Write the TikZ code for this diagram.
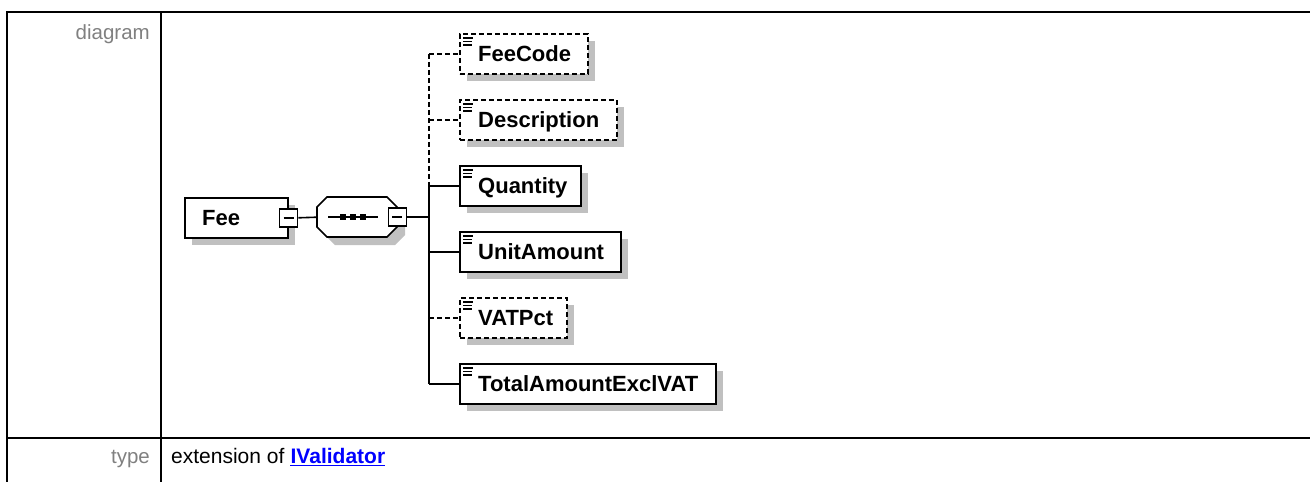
\documentclass[tikz,border=0pt]{standalone}
\usepackage{fontspec}
\setmainfont{Liberation Sans}
\definecolor{labelgray}{RGB}{128,128,128}
\definecolor{linkblue}{RGB}{0,0,255}
\definecolor{shadowgray}{RGB}{192,192,192}
\newcommand\xelem[6]{%
  \fill[shadowfill] (#2+8,#3+8) rectangle (#2+8+#4,#3+48);
  \node[elembox,#6,minimum width=#4pt] (#1) at (#2,#3) {};
  \node[elemtext] (#1t) at (#2+19,#3+28) {#5};
  \draw[iconline] (#2+4,#3+5) -- +(10,0) (#2+4,#3+8.5) -- +(9,0) (#2+4,#3+12) -- +(9,0);
}
\begin{document}
\begin{tikzpicture}[x=1pt,y=-1pt,
  tblline/.style={line width=2pt, black},
  shadowfill/.style={fill=shadowgray},
  elembox/.style={draw, line width=1.6pt, fill=white, minimum height=40pt, inner sep=0pt, anchor=north west},
  optional/.style={dash pattern=on 5pt off 3pt},
  elemtext/.style={font=\bfseries\fontsize{22}{25}\selectfont, anchor=base west, inner sep=0pt},
  iconline/.style={line width=1.3pt},
  sqbox/.style={draw, line width=1.6pt, fill=white, minimum size=18pt, inner sep=0pt},
  conn/.style={line width=1.6pt},
  tbllabel/.style={font=\fontsize{20.5}{24}\selectfont, text=labelgray, inner sep=0pt, anchor=base east},
  tbltext/.style={font=\fontsize{21}{24}\selectfont, inner sep=0pt, anchor=base west}
]
\useasboundingbox (0,0) rectangle (1310,482);
% table
\draw[tblline] (7,482) -- (7,12) -- (1311,12);
\draw[tblline] (161,12) -- (161,482);
\draw[tblline] (7,438) -- (1311,438);
\node[tbllabel] (lbldiagram) at (150,39) {diagram};
\node[tbllabel] (lbltype) at (150,463) {type};
\node[tbltext] (typeval) at (171,463) {extension of};
\node[tbltext, font=\bfseries\fontsize{21}{24}\selectfont, text=linkblue] (typelink) at ([xshift=5.8pt]typeval.base east) {IValidator};
\draw[linkblue, line width=1.5pt] ([yshift=-2.5pt]typelink.base west) -- ([yshift=-2.5pt]typelink.base east);

% Fee element
\fill[shadowfill] (192,205) rectangle (295,245);
\node[elembox, minimum width=103pt] (fee) at (184,197) {};
\node[elemtext] (feet) at (202,225) {Fee};
\node[sqbox] (feesq) at (fee.east) {};
\draw[conn] ([xshift=-5pt]feesq.center) -- ([xshift=5pt]feesq.center);

% sequence compositor
\node[minimum width=80pt, minimum height=40pt, inner sep=0pt, anchor=north west] (seq) at (317,197) {};
\fill[shadowfill] (335,205) -- (395,205) -- (405,215) -- (405,235) -- (395,245) -- (335,245) -- (325,235) -- (325,215) -- cycle;
\draw[conn, fill=white] (327,197) -- (387,197) -- (397,207) -- (397,227) -- (387,237) -- (327,237) -- (317,227) -- (317,207) -- cycle;
\draw[line width=1.3pt] (328,217) -- (378,217);
\foreach \cx in {343,353,363} \fill (\cx-3,214) rectangle (\cx+3,220);
\node[sqbox] (seqsq) at (seq.east) {};
\draw[conn] ([xshift=-5pt]seqsq.center) -- ([xshift=5pt]seqsq.center);
\draw[conn] (feesq.east) -- (seq.west);

% children
\xelem{feecode}{459}{33}{128}{FeeCode}{optional}
\xelem{desc}{459}{99}{157}{Description}{optional}
\xelem{qty}{459}{165}{121}{Quantity}{}
\xelem{unit}{459}{231}{161}{UnitAmount}{}
\xelem{vat}{459}{297}{107}{VATPct}{optional}
\xelem{total}{459}{363}{256}{TotalAmountExclVAT}{}

% bus and branches
\coordinate (bus) at (429,0);
\draw[conn] (seqsq.east) -- (seqsq.east -| bus);
\draw[conn, optional] (feecode.west -| bus) -- (qty.west -| bus);
\draw[conn] (qty.west -| bus) -- (total.west -| bus);
\draw[conn, optional] (feecode.west -| bus) -- (feecode.west);
\draw[conn, optional] (desc.west -| bus) -- (desc.west);
\draw[conn] (qty.west -| bus) -- (qty.west);
\draw[conn] (unit.west -| bus) -- (unit.west);
\draw[conn, optional] (vat.west -| bus) -- (vat.west);
\draw[conn] (total.west -| bus) -- (total.west);
\end{tikzpicture}
\end{document}
